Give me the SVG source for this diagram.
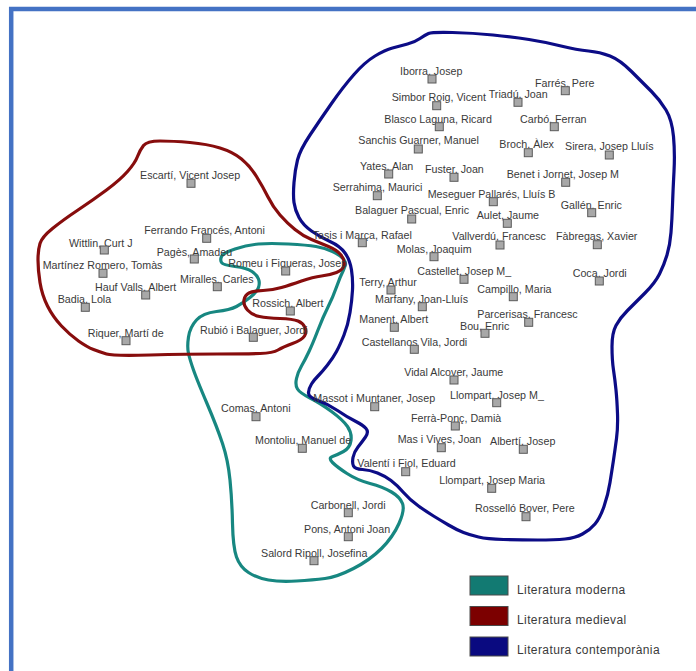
<svg xmlns="http://www.w3.org/2000/svg" width="696" height="671" viewBox="0 0 696 671">
<style>
.bg{fill:#ffffff}
.frame{fill:none;stroke:#4472c4;stroke-width:4.5}
.region{fill:none;stroke-width:3.2;stroke-linejoin:round;stroke-linecap:round}
.teal{stroke:#178781}
.red{stroke:#870d0d}
.blue{stroke:#0c0c86}
.lbl{font-family:"Liberation Sans",Arial,sans-serif;font-size:10.7px;fill:#3a3a3a}
.sq{fill:#a8a8a8;stroke:#5a5a5a;stroke-width:1}
.leg{font-family:"Liberation Sans",Arial,sans-serif;font-size:12px;letter-spacing:0.4px;fill:#3a3a3a}
.legbox{stroke:#4a4a4a;stroke-width:1}
</style>
<rect class="bg" x="0" y="0" width="696" height="671"/>
<path class="frame" d="M 11.2 671 V 9 H 696"/>

<g id="regions">
<path id="region-moderna" class="region teal" d="M 221.5,256.5 Q 223,253 235,249 Q 247,245 258.5,244 Q 270,243 288.5,244 Q 307,245 316,246.5 Q 325,248 332.5,251.5 Q 340,255 343.5,259 Q 347,263 343.5,270 Q 340,277 336.5,287 Q 333,297 328,307 Q 323,317 318,330 Q 313,343 309,351.5 Q 305,360 301.5,366 Q 298,372 296.5,378.5 Q 295,385 297.5,389 Q 300,393 310,398 Q 320,403 331.5,411.5 Q 343,420 347.5,426.5 Q 352,433 351,440.5 Q 350,448 343.5,451.5 Q 337,455 332.5,456.5 Q 328,458 332.5,462.5 Q 337,467 347,473.5 Q 357,480 370,483.5 Q 383,487 391.5,492 Q 400,497 402.5,503.5 Q 405,510 399,523.5 Q 393,537 381.5,548.5 Q 370,560 353.5,568.5 Q 337,577 325,578.5 Q 313,580 296.5,581 Q 280,582 268.5,580 Q 257,578 248.5,572.5 Q 240,567 236.5,557 Q 233,547 232.5,523.5 Q 232,500 230,480 Q 228,460 222.5,443.5 Q 217,427 207,403.5 Q 197,380 193.5,370 Q 190,360 188.5,353.5 Q 187,347 188.5,337 Q 190,327 196.5,320 Q 203,313 216.5,311.5 Q 230,310 236.5,306.5 Q 243,303 250,297.5 Q 257,292 258.5,287.5 Q 260,283 258.5,279 Q 257,275 252,271.5 Q 247,268 235,266.5 Q 223,265 221.5,262.5 Q 220,260 221.5,256.5 Z"/>
<path id="region-contemporania" class="region blue" d="M 452.5,32.5 Q 473,33 493,35 Q 513,37 529,39.5 Q 545,42 561,46 Q 577,50 588.5,51 Q 600,52 610,56 Q 620,60 631.5,71.5 Q 643,83 651.5,91.5 Q 660,100 666,110 Q 672,120 673.5,136.5 Q 675,153 674,171.5 Q 673,190 672.5,205 Q 672,220 671,232.5 Q 670,245 667,255 Q 664,265 659.5,274 Q 655,283 645,293 Q 635,303 627.5,310.5 Q 620,318 616,325.5 Q 612,333 612,346.5 Q 612,360 613.5,370 Q 615,380 616,390 Q 617,400 617.5,413.5 Q 618,427 616.5,438.5 Q 615,450 613.5,460 Q 612,470 610,482.5 Q 608,495 604,506.5 Q 600,518 595,524 Q 590,530 582.5,534 Q 575,538 565,539 Q 555,540 537.5,540 Q 520,540 503.5,539.5 Q 487,539 478.5,537 Q 470,535 463.5,532.5 Q 457,530 448.5,525 Q 440,520 433.5,516 Q 427,512 418.5,506 Q 410,500 403.5,492.5 Q 397,485 391,480.5 Q 385,476 377.5,473 Q 370,470 362.5,469.5 Q 355,469 353.5,466 Q 352,463 353,457.5 Q 354,452 358,447 Q 362,442 365.5,437 Q 369,432 366,428.5 Q 363,425 355,421 Q 347,417 337.5,410.5 Q 328,404 318,400.5 Q 308,397 308.5,392.5 Q 309,388 311.5,384 Q 314,380 318,376 Q 322,372 327.5,365 Q 333,358 336.5,351.5 Q 340,345 344,335 Q 348,325 350,312.5 Q 352,300 352.5,290 Q 353,280 351.5,270 Q 350,260 345,253 Q 340,246 330,241.5 Q 320,237 311.5,231 Q 303,225 299,217.5 Q 295,210 294,202.5 Q 293,195 294,182.5 Q 295,170 297.5,160 Q 300,150 310,135 Q 320,120 331.5,103.5 Q 343,87 354,74.5 Q 365,62 375,56 Q 385,50 392.5,48 Q 400,46 407.5,44 Q 415,42 420,38.5 Q 425,35 428.5,33.5 Q 432,32 452.5,32.5 Z"/>
<path id="region-medieval" class="region red" d="M 160,141 Q 173,141 190,142.5 Q 207,144 220,148 Q 233,152 241.5,159 Q 250,166 256.5,176.5 Q 263,187 268,197 Q 273,207 280,215 Q 287,223 295,229.5 Q 303,236 311.5,239.5 Q 320,243 328.5,246.5 Q 337,250 341,255 Q 345,260 344,265 Q 343,270 336.5,272.5 Q 330,275 321.5,276 Q 313,277 301.5,281 Q 290,285 281.5,287.5 Q 273,290 263,290.5 Q 253,291 249,293 Q 245,295 244,300 Q 243,305 247.5,310 Q 252,315 259.5,316.5 Q 267,318 280,318.5 Q 293,319 298,321 Q 303,323 305,327.5 Q 307,332 304.5,336 Q 302,340 292.5,343.5 Q 283,347 278,350 Q 273,353 260,353.5 Q 247,354 217,354 Q 187,354 150,355 Q 113,356 106.5,354 Q 100,352 93.5,349.5 Q 87,347 78.5,341 Q 70,335 61.5,326 Q 53,317 47.5,306 Q 42,295 40,282.5 Q 38,270 38,260 Q 38,250 40,243.5 Q 42,237 52.5,228.5 Q 63,220 78,210 Q 93,200 106.5,190 Q 120,180 127.5,171.5 Q 135,163 137.5,156.5 Q 140,150 143.5,145.5 Q 147,141 160,141 Z"/>
</g>

<g id="n-iborra"><text class="lbl" x="400" y="75">Iborra, Josep</text><rect class="sq" x="428" y="75" width="8" height="8"/></g>
<g id="n-farres"><text class="lbl" x="535" y="86.5">Farrés, Pere</text><rect class="sq" x="561.3" y="86.7" width="8" height="8"/></g>
<g id="n-simbor"><text class="lbl" x="391.7" y="101">Simbor Roig, Vicent</text><rect class="sq" x="432.7" y="101.7" width="8" height="8"/></g>
<g id="n-triadu"><text class="lbl" x="488.7" y="98">Triadú, Joan</text><rect class="sq" x="514" y="98.3" width="8" height="8"/></g>
<g id="n-blasco"><text class="lbl" x="384.3" y="122.5">Blasco Laguna, Ricard</text><rect class="sq" x="435.3" y="122.7" width="8" height="8"/></g>
<g id="n-carbo"><text class="lbl" x="520" y="122.5">Carbó, Ferran</text><rect class="sq" x="550.3" y="122.7" width="8" height="8"/></g>
<g id="n-sanchis"><text class="lbl" x="358.3" y="144">Sanchis Guarner, Manuel</text><rect class="sq" x="414.3" y="145" width="8" height="8"/></g>
<g id="n-broch"><text class="lbl" x="499.3" y="147.5">Broch, Àlex</text><rect class="sq" x="524.3" y="148.7" width="8" height="8"/></g>
<g id="n-sirera"><text class="lbl" x="565" y="150">Sirera, Josep Lluís</text><rect class="sq" x="605.3" y="151" width="8" height="8"/></g>
<g id="n-yates"><text class="lbl" x="360" y="170">Yates, Alan</text><rect class="sq" x="384.7" y="170" width="8" height="8"/></g>
<g id="n-fuster"><text class="lbl" x="425" y="172.5">Fuster, Joan</text><rect class="sq" x="450" y="173.3" width="8" height="8"/></g>
<g id="n-benet"><text class="lbl" x="506.7" y="178">Benet i Jornet, Josep M</text><rect class="sq" x="561.7" y="178.3" width="8" height="8"/></g>
<g id="n-serrahima"><text class="lbl" x="332.7" y="191">Serrahima, Maurici</text><rect class="sq" x="373.3" y="191.7" width="8" height="8"/></g>
<g id="n-meseguer"><text class="lbl" x="427.7" y="197.5">Meseguer Pallarés, Lluís B</text><rect class="sq" x="489.3" y="197.7" width="8" height="8"/></g>
<g id="n-gallen"><text class="lbl" x="560.7" y="208.5">Gallén, Enric</text><rect class="sq" x="587.7" y="208.7" width="8" height="8"/></g>
<g id="n-balaguer"><text class="lbl" x="355" y="214">Balaguer Pascual, Enric</text><rect class="sq" x="407.7" y="215" width="8" height="8"/></g>
<g id="n-aulet"><text class="lbl" x="476.7" y="219">Aulet, Jaume</text><rect class="sq" x="503.3" y="219.3" width="8" height="8"/></g>
<g id="n-tasis"><text class="lbl" x="312.7" y="238.5">Tasis i Marça, Rafael</text><rect class="sq" x="358.3" y="238.7" width="8" height="8"/></g>
<g id="n-vallverdu"><text class="lbl" x="452.3" y="240">Vallverdú, Francesc</text><rect class="sq" x="496" y="241" width="8" height="8"/></g>
<g id="n-fabregas"><text class="lbl" x="556" y="240">Fàbregas, Xavier</text><rect class="sq" x="593.3" y="240.7" width="8" height="8"/></g>
<g id="n-molas"><text class="lbl" x="396.7" y="252.5">Molas, Joaquim</text><rect class="sq" x="430" y="252.7" width="8" height="8"/></g>
<g id="n-castellet"><text class="lbl" x="417.3" y="275">Castellet, Josep M_</text><rect class="sq" x="460" y="275.3" width="8" height="8"/></g>
<g id="n-coca"><text class="lbl" x="572.7" y="277">Coca, Jordi</text><rect class="sq" x="595.3" y="277" width="8" height="8"/></g>
<g id="n-terry"><text class="lbl" x="359.3" y="286">Terry, Arthur</text><rect class="sq" x="387" y="286" width="8" height="8"/></g>
<g id="n-campillo"><text class="lbl" x="477.3" y="292.5">Campillo, Maria</text><rect class="sq" x="509.3" y="292.7" width="8" height="8"/></g>
<g id="n-marfany"><text class="lbl" x="375" y="302.5">Marfany, Joan-Lluís</text><rect class="sq" x="418.3" y="302.7" width="8" height="8"/></g>
<g id="n-parcerisas"><text class="lbl" x="477.3" y="318">Parcerisas, Francesc</text><rect class="sq" x="524.7" y="318.3" width="8" height="8"/></g>
<g id="n-manent"><text class="lbl" x="359.3" y="323">Manent, Albert</text><rect class="sq" x="390.3" y="323.3" width="8" height="8"/></g>
<g id="n-bou"><text class="lbl" x="460" y="330">Bou, Enric</text><rect class="sq" x="481" y="329.3" width="8" height="8"/></g>
<g id="n-castellanos"><text class="lbl" x="361.7" y="346">Castellanos Vila, Jordi</text><rect class="sq" x="410.3" y="345.3" width="8" height="8"/></g>
<g id="n-vidal"><text class="lbl" x="404.3" y="376">Vidal Alcover, Jaume</text><rect class="sq" x="450" y="376" width="8" height="8"/></g>
<g id="n-massot"><text class="lbl" x="313.3" y="401.5">Massot i Muntaner, Josep</text><rect class="sq" x="370.7" y="402.7" width="8" height="8"/></g>
<g id="n-llompart-jm"><text class="lbl" x="450" y="399">Llompart, Josep M_</text><rect class="sq" x="492.7" y="398.7" width="8" height="8"/></g>
<g id="n-ferra"><text class="lbl" x="411" y="421.5">Ferrà-Ponç, Damià</text><rect class="sq" x="451.3" y="422" width="8" height="8"/></g>
<g id="n-mas"><text class="lbl" x="397.7" y="443">Mas i Vives, Joan</text><rect class="sq" x="437.3" y="443.7" width="8" height="8"/></g>
<g id="n-alberti"><text class="lbl" x="490" y="445">Albertí, Josep</text><rect class="sq" x="519.3" y="445.3" width="8" height="8"/></g>
<g id="n-valenti"><text class="lbl" x="357.3" y="467">Valentí i Fiol, Eduard</text><rect class="sq" x="401.7" y="467.7" width="8" height="8"/></g>
<g id="n-llompart-maria"><text class="lbl" x="439.3" y="483.5">Llompart, Josep Maria</text><rect class="sq" x="487.7" y="484.3" width="8" height="8"/></g>
<g id="n-rossello"><text class="lbl" x="475" y="512">Rosselló Bover, Pere</text><rect class="sq" x="522" y="512.7" width="8" height="8"/></g>
<g id="n-comas"><text class="lbl" x="221" y="411.5">Comas, Antoni</text><rect class="sq" x="252" y="412.7" width="8" height="8"/></g>
<g id="n-montoliu"><text class="lbl" x="255" y="444">Montoliu, Manuel de</text><rect class="sq" x="298.3" y="444.3" width="8" height="8"/></g>
<g id="n-carbonell"><text class="lbl" x="310.7" y="508.5">Carbonell, Jordi</text><rect class="sq" x="344.3" y="508.7" width="8" height="8"/></g>
<g id="n-pons"><text class="lbl" x="304" y="532.5">Pons, Antoni Joan</text><rect class="sq" x="344.3" y="532.7" width="8" height="8"/></g>
<g id="n-salord"><text class="lbl" x="261" y="556.5">Salord Ripoll, Josefina</text><rect class="sq" x="310" y="556.7" width="8" height="8"/></g>
<g id="n-escarti"><text class="lbl" x="140" y="179">Escartí, Vicent Josep</text><rect class="sq" x="187" y="179.3" width="8" height="8"/></g>
<g id="n-ferrando"><text class="lbl" x="144.3" y="234">Ferrando Francés, Antoni</text><rect class="sq" x="202.7" y="234.3" width="8" height="8"/></g>
<g id="n-wittlin"><text class="lbl" x="69" y="246.5">Wittlin, Curt J</text><rect class="sq" x="100.3" y="246" width="8" height="8"/></g>
<g id="n-pages"><text class="lbl" x="156.7" y="256">Pagès, Amadeu</text><rect class="sq" x="190.3" y="255" width="8" height="8"/></g>
<g id="n-romeu"><text class="lbl" x="228.3" y="266.5">Romeu i Figueras, Josep</text><rect class="sq" x="281.7" y="267" width="8" height="8"/></g>
<g id="n-martinez"><text class="lbl" x="42.7" y="269">Martínez Romero, Tomàs</text><rect class="sq" x="99" y="269.3" width="8" height="8"/></g>
<g id="n-miralles"><text class="lbl" x="180" y="282.5">Miralles, Carles</text><rect class="sq" x="213.3" y="282.7" width="8" height="8"/></g>
<g id="n-hauf"><text class="lbl" x="95" y="291">Hauf Valls, Albert</text><rect class="sq" x="141.7" y="291" width="8" height="8"/></g>
<g id="n-rossich"><text class="lbl" x="252.3" y="307">Rossich, Albert</text><rect class="sq" x="286.3" y="307" width="8" height="8"/></g>
<g id="n-badia"><text class="lbl" x="57.7" y="303">Badia, Lola</text><rect class="sq" x="81.3" y="303.3" width="8" height="8"/></g>
<g id="n-rubio"><text class="lbl" x="200" y="334">Rubió i Balaguer, Jordi</text><rect class="sq" x="249.3" y="333.3" width="8" height="8"/></g>
<g id="n-riquer"><text class="lbl" x="87.7" y="337">Riquer, Martí de</text><rect class="sq" x="122" y="336.7" width="8" height="8"/></g>

<g id="legend">
<rect class="legbox" x="470" y="576" width="38" height="19" fill="#127a72"/>
<text class="leg" x="517" y="593.5">Literatura moderna</text>
<rect class="legbox" x="470" y="606.5" width="38" height="19" fill="#7c0000"/>
<text class="leg" x="517" y="623.5">Literatura medieval</text>
<rect class="legbox" x="470" y="637" width="38" height="19" fill="#0a0a80"/>
<text class="leg" x="517" y="653.5">Literatura contemporània</text>
</g>
</svg>
